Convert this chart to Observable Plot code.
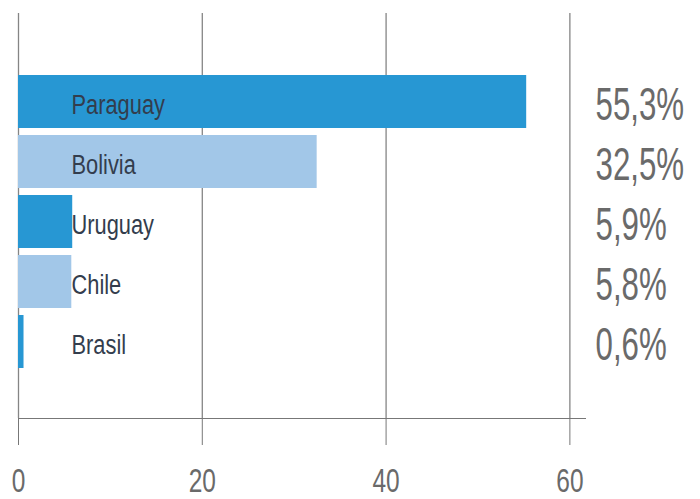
<!DOCTYPE html>
<html>
<head>
<meta charset="utf-8">
<script src="https://cdn.jsdelivr.net/npm/d3@7"></script>
<script src="https://cdn.jsdelivr.net/npm/@observablehq/plot@0.6"></script>
<style>
  html, body { margin: 0; padding: 0; background: #fff; }
</style>
</head>
<body>
<div id="chart"></div>
<script>
const countries = ["Paraguay", "Bolivia", "Uruguay", "Chile", "Brasil"];
const values = [55.3, 32.5, 5.9, 5.8, 0.6];
const valueLabels = ["55,3%", "32,5%", "5,9%", "5,8%", "0,6%"];
const xTicks = [0, 20, 40, 60];

const dark = "#2797d3";
const light = "#a2c7e8";

const data = countries.map((c, i) => ({country: c, value: values[i], label: valueLabels[i], i}));

const chart = Plot.plot({
  width: 700,
  height: 499,
  marginTop: 13,
  marginBottom: 81,
  marginLeft: 18,
  marginRight: 115,
  style: {fontFamily: "'Liberation Sans', Arial, sans-serif", fontSize: "34px", color: "#777", background: "#fff"},
  x: {domain: [0, 61.7], ticks: xTicks, tickSize: 27, tickPadding: 22, tickFormat: d => String(d), line: true, label: null},
  y: {domain: countries, range: [70, 372], paddingInner: 0.12, paddingOuter: 0.06, axis: null},
  marks: [
    Plot.ruleX(xTicks, {stroke: "#858585", strokeWidth: 1.3}),
    Plot.barX(data, {x: "value", y: "country", fill: d => d.i % 2 ? light : dark}),
    Plot.text(data, {y: "country", text: "country", frameAnchor: "left", dx: 53, dy: 3, textAnchor: "start", fontSize: 28, fill: "#333d4d"}),
    Plot.text(data, {y: "country", text: "label", frameAnchor: "right", dx: 10, dy: 3, textAnchor: "start", fontSize: 46, fill: "#6a6a6a"})
  ]
});

document.getElementById("chart").appendChild(chart);

// condense labels horizontally to mimic the narrow typeface of the original
d3.select(chart).selectAll("text").each(function() {
  const el = this;
  const s = el.textContent.trim();
  const k = /%/.test(s) ? 0.68 : /^\d+$/.test(s) ? 0.72 : 0.78;
  const tx = el.getAttribute("x");
  const t = el.getAttribute("transform") || "";
  let pre = "";
  if (tx != null && !isNaN(+tx)) {
    pre = `translate(${+tx},0)`;
    el.removeAttribute("x");
  }
  el.setAttribute("transform", `${t} ${pre} scale(${k},1)`);
});
d3.select(chart).selectAll("g[aria-label='x-axis tick label']").attr("fill", "#6a6a6a");
</script>
</body>
</html>
